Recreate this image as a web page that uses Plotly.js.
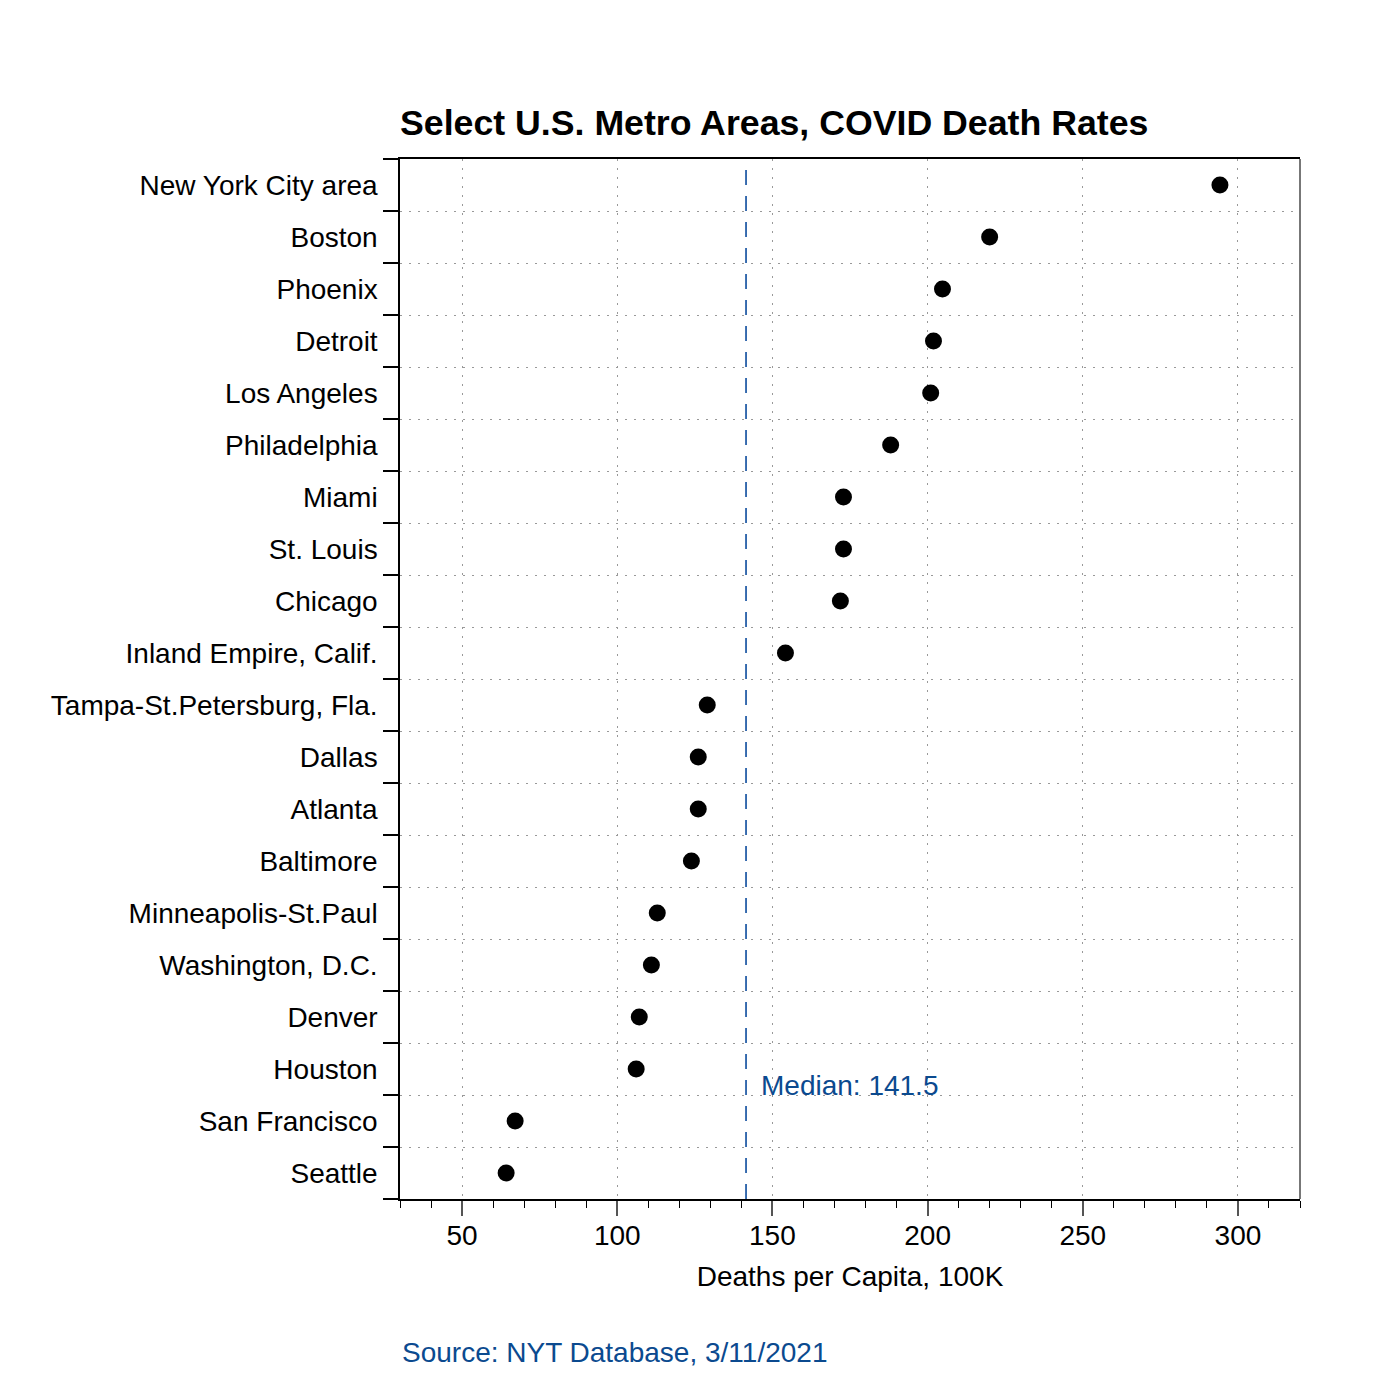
<!DOCTYPE html>
<html>
<head>
<meta charset="utf-8">
<script src="https://cdn.plot.ly/plotly-3.0.1.min.js"></script>
<style>html,body{margin:0;padding:0;background:#fff;}#chart{width:1400px;height:1400px;}</style>
</head>
<body>
<div id="chart"></div>
<script>
const metros = ["New York City area","Boston","Phoenix","Detroit","Los Angeles","Philadelphia","Miami","St. Louis","Chicago","Inland Empire, Calif.","Tampa-St.Petersburg, Fla.","Dallas","Atlanta","Baltimore","Minneapolis-St.Paul","Washington, D.C.","Denver","Houston","San Francisco","Seattle"];
const deathRates = [294.2,220,204.8,201.9,201,188.1,172.9,172.9,171.9,154.2,129,126.1,126.1,123.9,112.9,111,107.1,106.1,67.1,64.2];
const medianValue = 141.5;
const xTickStep = 50;
const xMinorStep = 10;

const font = "Liberation Sans, Arial, Helvetica, sans-serif";
const blue = "#0b4a8f";

const trace = {
  type: "scatter", mode: "markers",
  x: deathRates, y: metros,
  marker: {color: "#000", size: 17},
  hoverinfo: "x+y"
};

const layout = {
  width: 1400, height: 1400,
  margin: {l: 400, r: 100, t: 159, b: 201},
  paper_bgcolor: "#fff", plot_bgcolor: "#fff",
  showlegend: false,
  font: {family: font, size: 28, color: "#000"},
  title: {text: "<b>Select U.S. Metro Areas, COVID Death Rates</b>", x: 0, xanchor: "left", xref: "paper", y: 1 - 123/1400, yanchor: "middle", font: {family: font, size: 35.7, color: "#000"}},
  xaxis: {
    range: [30, 320],
    tickmode: "linear", tick0: 0, dtick: xTickStep,
    ticks: "outside", ticklen: 15, tickcolor: "#555", tickwidth: 2,
    showline: true, linecolor: "#000", linewidth: 1.5, mirror: true,
    showgrid: true, gridcolor: "#999", gridwidth: 1, griddash: "2px,7px",
    zeroline: false,
    tickfont: {size: 28},
    ticklabelstandoff: -4,
    minor: {tickmode: "linear", tick0: 0, dtick: xMinorStep, ticks: "outside", ticklen: 7, tickcolor: "#000", tickwidth: 1, showgrid: false},
    title: {text: "Deaths per Capita, 100K", font: {size: 28}, standoff: 16}
  },
  yaxis: {
    type: "category",
    categoryorder: "array", categoryarray: metros.slice().reverse(),
    range: [-0.5, metros.length - 0.5],
    tickson: "boundaries",
    ticks: "outside", ticklen: 15, tickcolor: "#000", tickwidth: 1.5,
    showline: true, linecolor: "#000", linewidth: 1.5,
    showgrid: true, gridcolor: "#999", gridwidth: 1, griddash: "2px,7px",
    zeroline: false,
    tickfont: {size: 28},
    ticklabelstandoff: 15
  },
  shapes: [
    {type: "line", xref: "x", yref: "paper", x0: medianValue, x1: medianValue, y0: 0, y1: 1, line: {color: "#1a55a3", width: 1.7, dash: "15px,11px"}},
    {type: "line", xref: "paper", yref: "paper", x0: 1, x1: 1, y0: 0, y1: 1, line: {color: "#777", width: 2}}
  ],
  annotations: [
    {text: "Median: " + medianValue, xref: "x", yref: "paper", x: medianValue, xshift: 13, y: 1 - (1085-159)/1040, xanchor: "left", yanchor: "middle", showarrow: false, font: {family: font, size: 28, color: blue}},
    {text: "Source: NYT Database, 3/11/2021", xref: "paper", yref: "paper", x: 0, y: -(1352-1199)/1040, xanchor: "left", yanchor: "middle", showarrow: false, font: {family: font, size: 28, color: blue}}
  ]
};

Plotly.newPlot("chart", [trace], layout, {displayModeBar: false, responsive: false});
</script>
</body>
</html>
